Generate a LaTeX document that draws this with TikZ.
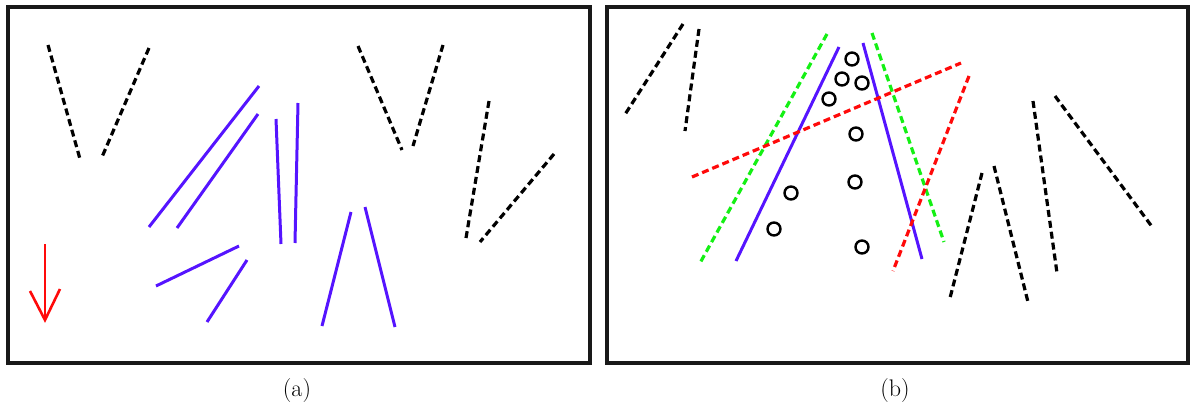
\documentclass[tikz,border=0pt]{standalone}
\usetikzlibrary{arrows.meta}
\definecolor{vblue}{RGB}{85,20,255}
\definecolor{vgreen}{RGB}{20,240,20}
\definecolor{vred}{RGB}{255,10,10}
\begin{document}
\begin{tikzpicture}[x=1pt,y=-1pt,
  frame/.style={line width=3.2pt,draw=black!90},
  solidline/.style={line width=3pt,draw=vblue},
  dashline/.style={line width=3.2pt,dash pattern=on 7pt off 4pt},
  ring/.style={circle,draw=black,line width=2.4pt,minimum size=13pt,inner sep=0pt},
  lbl/.style={font=\fontsize{24}{28}\selectfont}]
\useasboundingbox (0,0) rectangle (1192,410);
% frames
\draw[frame] (8,7) rectangle (590,363);
\draw[frame] (607,7) rectangle (1188,363);
% ---- panel (a)
\draw[dashline,black] (48,45) -- (80,159);
\draw[dashline,black] (149,48) -- (102,157);
\draw[dashline,black] (358,46) -- (402,150);
\draw[dashline,black] (443,45) -- (413,146);
\draw[dashline,black] (489,101) -- (466,238);
\draw[dashline,black] (554,154) -- (480,242);
\draw[solidline] (259,86) -- (149,227);
\draw[solidline] (258,114) -- (177,228);
\draw[solidline] (276,119) -- (281,244);
\draw[solidline] (298,103) -- (295,243);
\draw[solidline] (156,286) -- (239,246);
\draw[solidline] (207,322) -- (247,260);
\draw[solidline] (322,326) -- (351,212);
\draw[solidline] (365,207) -- (395,327);
% red arrow
\draw[vred,line width=2.6pt] (45,244) -- (45,318);
\draw[vred,line width=2.6pt,line join=miter] (30,291) -- (45,320) -- (60,289);
% ---- panel (b)
\draw[dashline,black] (683,24) -- (624,116);
\draw[dashline,black] (699,29) -- (685,131);
\draw[dashline,black] (982,173) -- (950,298);
\draw[dashline,black] (994,166) -- (1028,302);
\draw[dashline,black] (1033,101) -- (1057,273);
\draw[dashline,black] (1055,96) -- (1153,228);
\draw[dashline,vgreen] (827,34) -- (700,263);
\draw[dashline,vgreen] (872,33) -- (944,242);
\draw[solidline] (839,47) -- (736,261);
\draw[solidline] (863,43) -- (922,259);
\draw[dashline,vred] (692,177) -- (961,63);
\draw[dashline,vred] (969,76) -- (893,271);
% rings
\node[ring] (c1) at (852,59) {};
\node[ring] (c2) at (842,79) {};
\node[ring] (c3) at (862,83) {};
\node[ring] (c4) at (829,99) {};
\node[ring] (c5) at (856,134) {};
\node[ring] (c6) at (855,182) {};
\node[ring] (c7) at (791,193) {};
\node[ring] (c8) at (774,229) {};
\node[ring] (c9) at (862,247) {};
% labels
\node[lbl] (la) at (297,391) {(a)};
\node[lbl] (lb) at (895,391) {(b)};
\end{tikzpicture}
\end{document}
